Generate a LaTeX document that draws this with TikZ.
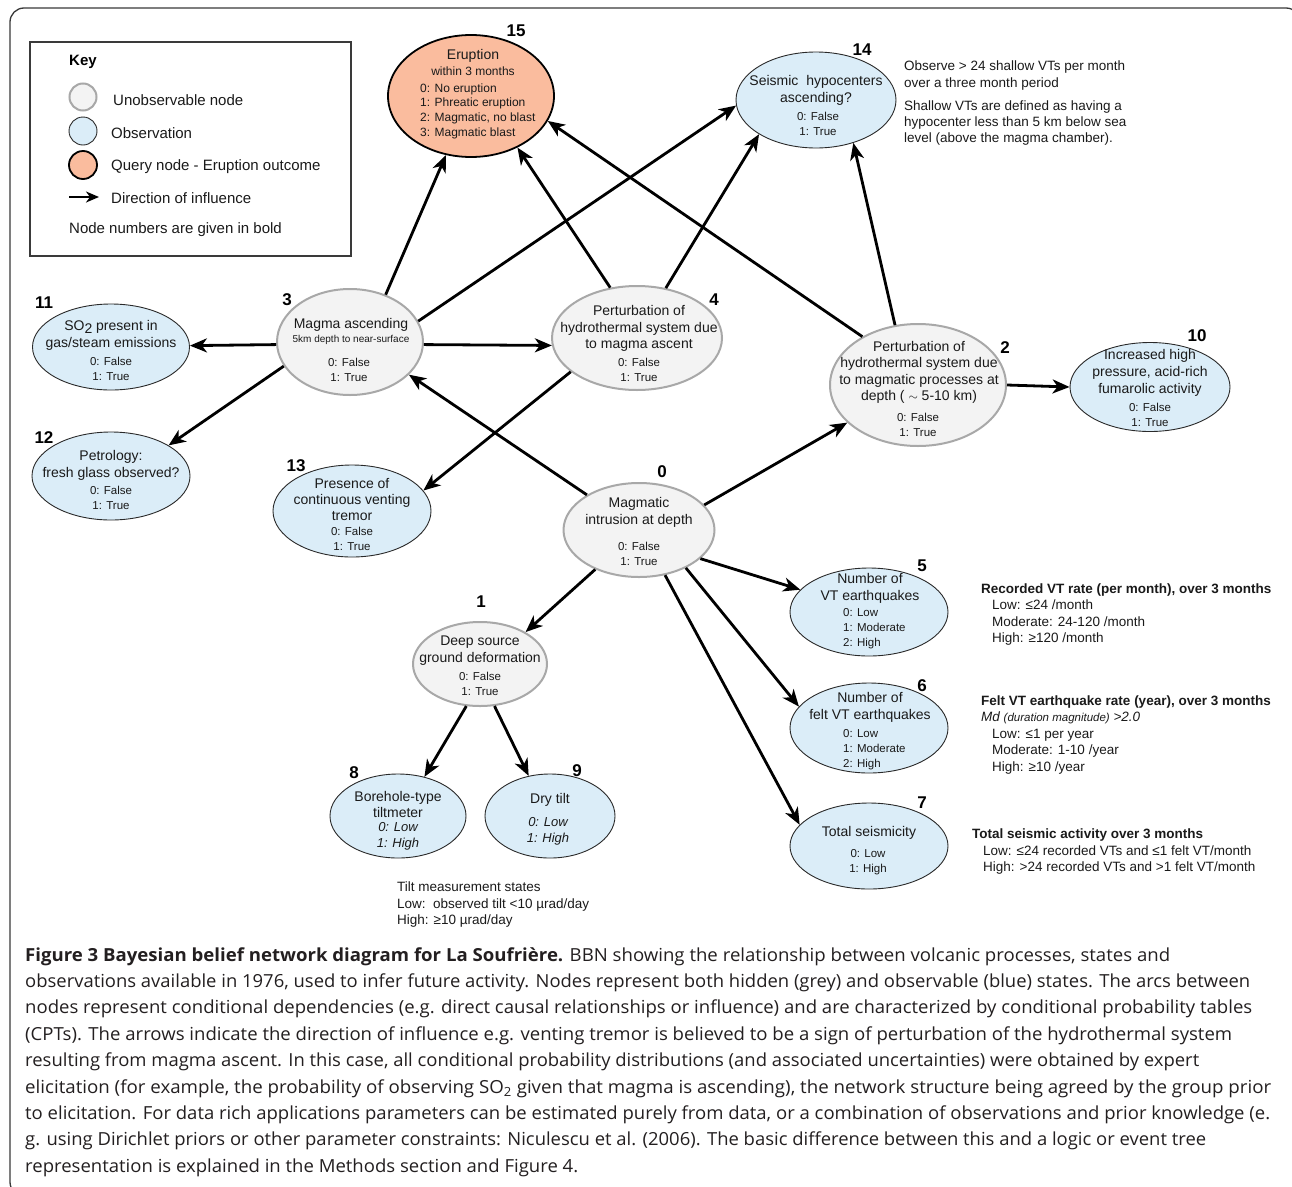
\documentclass[tikz,border=0pt]{standalone}
\usepackage{graphicx}
\usepackage{fontspec}
\setmainfont{Liberation Sans}
\newfontfamily\capfam{Open Sans}
\usetikzlibrary{shapes.geometric,arrows.meta}
\definecolor{hidfill}{HTML}{F3F3F3}
\definecolor{hidborder}{HTML}{A8A8A8}
\definecolor{obsfill}{HTML}{DBEDF8}
\definecolor{obsborder}{HTML}{2A2A2A}
\definecolor{qfill}{HTML}{FABC9E}
\definecolor{capcol}{HTML}{231F20}
\definecolor{framecol}{HTML}{3A3A3A}
\definecolor{txt}{HTML}{1A1A1A}
\newcommand\fsz[2]{\fontsize{#1pt}{#2pt}\selectfont}
\newlength\capwd
\newcommand\capfont{\capfam\fsz{18}{18}}
\newcommand\capline[2]{\settowidth\capwd{\capfont #2}\pgfmathsetmacro{\capsc}{#1/\capwd}\scalebox{\capsc}[1]{\capfont #2}}
\begin{document}
\begin{tikzpicture}[x=1pt,y=-1pt,
  hid/.style={ellipse, draw=hidborder, line width=2pt, fill=hidfill, inner sep=0pt},
  obs/.style={ellipse, draw=obsborder, line width=0.9pt, fill=obsfill, inner sep=0pt},
  qry/.style={ellipse, draw=black, line width=1.8pt, fill=qfill, inner sep=0pt},
  num/.style={font=\fsz{17}{17}\bfseries, inner sep=0pt, text=black},
  ttl/.style={font=\fsz{14}{17}, align=center, inner sep=0pt, text=txt},
  st/.style={font=\fsz{11.5}{15}, align=center, inner sep=0pt, text=txt},
  ann/.style={font=\fsz{13.5}{16.5}, align=left, anchor=west, inner sep=0pt, text=txt},
  annb/.style={font=\fsz{13.5}{16}\bfseries, anchor=west, inner sep=0pt, text=txt},
  keyt/.style={font=\fsz{15}{15}, anchor=west, inner sep=0pt, text=txt},
  infl/.style={line width=2.8pt, draw=black, -{Stealth[length=17pt,width=14pt,inset=5pt]}},
  capt/.style={anchor=base west, inner sep=0pt, text=capcol}]
\useasboundingbox (0,0) rectangle (1292,1186);
\fill[white] (0,0) rectangle (1292,1186);
% outer frame
\draw[rounded corners=14pt, line width=1.3pt, draw=framecol] (10,8) rectangle (1300,1196);

% key box
\draw[line width=1.3pt, draw=framecol] (30,42) rectangle (351,256);
\node[font=\fsz{15}{15}\bfseries, anchor=west, inner sep=0pt] (keyt) at (69,62) {Key};
\node[circle, draw=hidborder, fill=hidfill, line width=2pt, minimum size=27pt, inner sep=0pt] (k1) at (83,97) {};
\node[circle, draw=obsborder, fill=obsfill, line width=0.9pt, minimum size=28pt, inner sep=0pt] (k2) at (83,131) {};
\node[circle, draw=black, fill=qfill, line width=1.8pt, minimum size=28pt, inner sep=0pt] (k3) at (83,165) {};
\coordinate (la1) at (69,197);
\coordinate (la2) at (99,197);
\draw[line width=2.4pt, -{Stealth[length=13pt,width=11pt,inset=4pt]}] (la1) -- (la2);
\node[keyt] (kt1) at (113,100) {Unobservable node};
\node[keyt] (kt2) at (111,133) {Observation};
\node[keyt] (kt3) at (111,167) {Query node - Eruption outcome};
\node[keyt] (kt4) at (111,198) {Direction of influence};
\node[keyt] (kt5) at (69,230) {Node numbers are given in bold};

% ellipses
\node[qry, minimum width=166pt, minimum height=122pt] (n15) at (471,96) {};
\node[obs, minimum width=160pt, minimum height=96pt] (n14) at (816,100) {};
\node[hid, minimum width=146pt, minimum height=106pt] (n3) at (350,342) {};
\node[hid, minimum width=170pt, minimum height=104pt] (n4) at (637,338) {};
\node[hid, minimum width=176pt, minimum height=122pt] (n2) at (918,385) {};
\node[obs, minimum width=160pt, minimum height=89pt] (n10) at (1150,387) {};
\node[obs, minimum width=157pt, minimum height=86pt] (n11) at (111,347) {};
\node[obs, minimum width=158pt, minimum height=88pt] (n12) at (111,476) {};
\node[obs, minimum width=158pt, minimum height=92pt] (n13) at (352,511) {};
\node[hid, minimum width=151pt, minimum height=94pt] (n0) at (639,530) {};
\node[hid, minimum width=134pt, minimum height=84pt] (n1) at (480,664) {};
\node[obs, minimum width=136pt, minimum height=84pt] (n8) at (398,816) {};
\node[obs, minimum width=130pt, minimum height=84pt] (n9) at (550,816) {};
\node[obs, minimum width=158pt, minimum height=88pt] (n5) at (869,612) {};
\node[obs, minimum width=158pt, minimum height=90pt] (n6) at (869,728) {};
\node[obs, minimum width=158pt, minimum height=86pt] (n7) at (869,846) {};

% node texts
\node[ttl] (t15a) at (473,56) {Eruption};
\node[st, font=\fsz{12}{12}] (t15b) at (473,71) {within 3 months};
\node[st, font=\fsz{12}{14.7}, align=left, anchor=west] (t15c) at (420,111) {0: No eruption\\1: Phreatic eruption\\2: Magmatic, no blast\\3: Magmatic blast};

\node[ttl] (t14a) at (816,90.5) {Seismic\ \ hypocenters\\ascending?};
\node[st] (t14b) at (818,123.5) {0: False\\1: True};

\node[ttl] (t3a) at (351,325) {Magma ascending};
\node[st, font=\fsz{10}{10}] (t3b) at (351,340) {5km depth to near-surface};
\node[st] (t3c) at (349,369.5) {0: False\\1: True};

\node[ttl] (t11a) at (111,335.5) {SO\raisebox{-2.5pt}{2} present in\\gas/steam emissions};
\node[st] (t11b) at (111,369) {0: False\\1: True};

\node[ttl] (t12a) at (111,465.5) {Petrology:\\fresh glass observed?};
\node[st] (t12b) at (111,498) {0: False\\1: True};

\node[ttl, font=\fsz{14}{16}] (t13a) at (352,499) {Presence of\\continuous venting\\tremor};
\node[st] (t13b) at (352,539) {0: False\\1: True};

\node[ttl, font=\fsz{14}{16.5}] (t4a) at (639,328.5) {Perturbation of\\hydrothermal system due\\to magma ascent};
\node[st] (t4b) at (639,369.5) {0: False\\1: True};

\node[ttl, font=\fsz{14}{16.3}] (t2a) at (919,372.5) {Perturbation of\\hydrothermal system due\\to magmatic processes at\\depth ( \raisebox{0.5pt}{\fsz{13}{13}$\sim$} 5-10 km)};
\node[st] (t2b) at (918,424.5) {0: False\\1: True};

\node[ttl] (t10a) at (1150,373) {Increased high\\pressure, acid-rich\\fumarolic activity};
\node[st] (t10b) at (1150,415) {0: False\\1: True};

\node[ttl] (t0a) at (639,512.5) {Magmatic\\intrusion at depth};
\node[st] (t0b) at (639,553.5) {0: False\\1: True};

\node[ttl] (t1a) at (480,650.5) {Deep source\\ground deformation};
\node[st] (t1b) at (480,684) {0: False\\1: True};

\node[ttl, font=\fsz{14}{16}] (t8a) at (398,804) {Borehole-type\\tiltmeter};
\node[st, font=\fsz{13}{16}\itshape] (t8b) at (398,836) {0: Low\\1: High};

\node[ttl] (t9a) at (550,800) {Dry tilt};
\node[st, font=\fsz{13}{16}\itshape] (t9b) at (548,831) {0: Low\\1: High};

\node[ttl] (t5a) at (870,588.5) {Number of\\VT earthquakes};
\node[st, align=left, anchor=west] (t5b) at (843,629) {0: Low\\1: Moderate\\2: High};

\node[ttl] (t6a) at (870,707.5) {Number of\\felt VT earthquakes};
\node[st, align=left, anchor=west] (t6b) at (843,749.5) {0: Low\\1: Moderate\\2: High};

\node[ttl] (t7a) at (869,833) {Total seismicity};
\node[st] (t7b) at (868,862.5) {0: Low\\1: High};

% node numbers
\node[num] (m15) at (516,31) {15};
\node[num] (m14) at (862,50) {14};
\node[num] (m3) at (287,300) {3};
\node[num] (m4) at (714,300) {4};
\node[num] (m2) at (1005,348) {2};
\node[num] (m10) at (1197,336) {10};
\node[num] (m11) at (44,303) {11};
\node[num] (m12) at (44,438) {12};
\node[num] (m13) at (296,466) {13};
\node[num] (m0) at (662,472) {0};
\node[num] (m1) at (481,602) {1};
\node[num] (m8) at (354,773) {8};
\node[num] (m9) at (577,771) {9};
\node[num] (m5) at (922,566) {5};
\node[num] (m6) at (922,686) {6};
\node[num] (m7) at (922,803) {7};

% connectors
\draw[infl] (n3.53) -- (n15.247);
\draw[infl] (n4.118) -- (n15.312);
\draw[infl] (n2.139) -- (n15.342);
\draw[infl] (n3.17) -- (n14.184);
\draw[infl] (n4.60) -- (n14.211);
\draw[infl] (n2.111) -- (n14.311);
\draw[infl] (n3.182) -- (n11.1);
\draw[infl] (n3.200) -- (n12.28);
\draw[infl] (n3.358) -- (n4.185);
\draw[infl] (n4.207) -- (n13.16);
\draw[infl] (n0.146) -- (n3.331);
\draw[infl] (n0.21) -- (n2.208);
\draw[infl] (n2.0) -- (n10.180);
\draw[infl] (n0.222) -- (n1.35);
\draw[infl] (n0.335) -- (n5.162);
\draw[infl] (n0.321) -- (n6.163);
\draw[infl] (n0.300) -- (n7.163);
\draw[infl] (n1.252) -- (n8.56);
\draw[infl] (n1.289) -- (n9.118);

% annotations
\node[ann, font=\fsz{13.5}{17}] (a14a) at (904,75.5) {Observe > 24 shallow VTs per month\\over a three month period};
\node[ann, font=\fsz{13.5}{16}] (a14b) at (904,123) {Shallow VTs are defined as having a\\hypocenter less than 5 km below sea\\level (above the magma chamber).};

\node[annb] (a5a) at (981,590) {Recorded VT rate (per month), over 3 months};
\node[ann] (a5b) at (992,622.5) {Low: ≤24 /month\\Moderate: 24-120 /month\\High: ≥120 /month};

\node[annb] (a6a) at (981,702) {Felt VT earthquake rate (year), over 3 months};
\node[ann, font=\fsz{13.5}{13.5}\itshape] (a6b) at (981,718) {Md {\fsz{11.5}{11.5}(duration magnitude)} >2.0};
\node[ann] (a6c) at (992,751.5) {Low: ≤1 per year\\Moderate: 1-10 /year\\High: ≥10 /year};

\node[annb] (a7a) at (972,835) {Total seismic activity over 3 months};
\node[ann] (a7b) at (983,860) {Low: ≤24 recorded VTs and ≤1 felt VT/month\\High: >24 recorded VTs and >1 felt VT/month};

\node[ann] (atilt) at (397,904.5) {Tilt measurement states\\Low:\ \ observed tilt <10 µrad/day\\High: ≥10 µrad/day};

% caption
\node[capt] (c1) at (25,961) {\capline{1145}{{\bfseries Figure 3 Bayesian belief network diagram for La Soufrière.} BBN showing the relationship between volcanic processes, states and}};
\node[capt] (c2) at (25,987.4) {\capline{1225}{observations available in 1976, used to infer future activity. Nodes represent both hidden (grey) and observable (blue) states. The arcs between}};
\node[capt] (c3) at (25,1013.8) {\capline{1227}{nodes represent conditional dependencies (e.g. direct causal relationships or influence) and are characterized by conditional probability tables}};
\node[capt] (c4) at (25,1040.2) {\capline{1207}{(CPTs). The arrows indicate the direction of influence e.g. venting tremor is believed to be a sign of perturbation of the hydrothermal system}};
\node[capt] (c5) at (25,1066.6) {\capline{1174}{resulting from magma ascent. In this case, all conditional probability distributions (and associated uncertainties) were obtained by expert}};
\node[capt] (c6) at (25,1093) {\capline{1246}{elicitation (for example, the probability of observing SO\textsubscript{2} given that magma is ascending), the network structure being agreed by the group prior}};
\node[capt] (c7) at (25,1119.4) {\capline{1245}{to elicitation. For data rich applications parameters can be estimated purely from data, or a combination of observations and prior knowledge (e.}};
\node[capt] (c8) at (25,1145.8) {\capline{1181}{g. using Dirichlet priors or other parameter constraints: Niculescu et al. (2006). The basic difference between this and a logic or event tree}};
\node[capt] (c9) at (25,1172.2) {\capline{553}{representation is explained in the Methods section and Figure 4.}};
\end{tikzpicture}
\end{document}
